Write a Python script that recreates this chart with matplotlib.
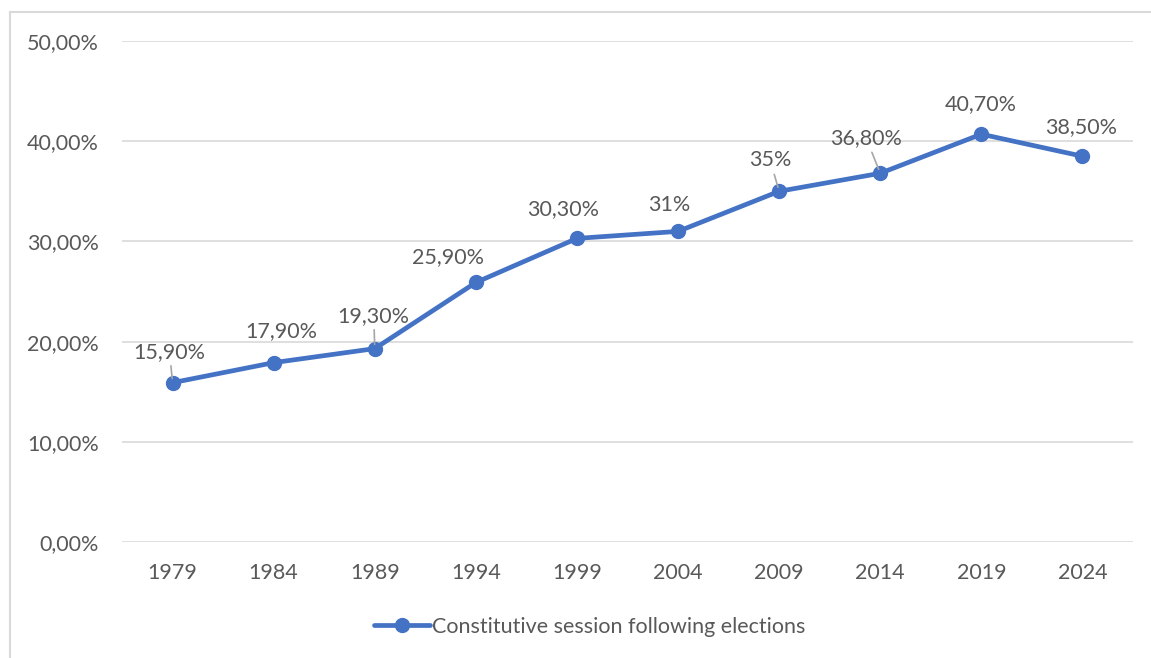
import matplotlib
matplotlib.use("Agg")
import matplotlib.pyplot as plt
from matplotlib.lines import Line2D

years = ["1979", "1984", "1989", "1994", "1999", "2004", "2009", "2014", "2019", "2024"]
values = [0.159, 0.179, 0.193, 0.259, 0.303, 0.31, 0.35, 0.368, 0.407, 0.385]
labels = ["15,90%", "17,90%", "19,30%", "25,90%", "30,30%", "31%", "35%", "36,80%", "40,70%", "38,50%"]
series_name = "Constitutive session following elections"
yticks = [0.0, 0.1, 0.2, 0.3, 0.4, 0.5]
ytick_labels = ["0,00%", "10,00%", "20,00%", "30,00%", "40,00%", "50,00%"]

# label offsets in pixels (dx, dy) and whether a leader line is drawn
label_offsets = [(-3, 31), (8, 32), (-1, 33), (-28, 25), (-14, 29),
                 (-9, 26), (-9, 31), (-14, 35), (-1, 30), (-1, 29)]
leaders = [True, False, True, False, False, False, True, True, False, False]

plt.rcParams['font.family'] = ['Lato', 'DejaVu Sans']
txt = '#595959'
grid = '#d9d9d9'
blue = '#4472C4'
fs = 15.5

fig = plt.figure(figsize=(11.51, 6.58), dpi=100)
ax = fig.add_axes([122/1151, 1-542/658, (1133-122)/1151, (542-41)/658])

x = list(range(len(years)))
line, = ax.plot(x, values, color=blue, lw=3.4, marker='o', markersize=10,
                solid_capstyle='round', zorder=3)

ax.set_xlim(-0.5, len(years) - 0.5)
ax.set_ylim(0, 0.5)
ax.set_yticks(yticks)
ax.set_yticklabels(ytick_labels)
ax.set_xticks(x)
ax.set_xticklabels(years)
ax.tick_params(axis='both', length=0, labelsize=fs, colors=txt)
ax.tick_params(axis='y', pad=16.5)
ax.tick_params(axis='x', pad=15)
ax.grid(axis='y', color=grid, lw=1.2)
ax.set_axisbelow(True)
for s in ax.spines.values():
    s.set_visible(False)

for xi, v, lab, off, ld in zip(x, values, labels, label_offsets, leaders):
    kw = {}
    if ld:
        kw['arrowprops'] = dict(arrowstyle='-', color='#a6a6a6', lw=1.2,
                                shrinkA=1, shrinkB=3)
    ax.annotate(lab, (xi, v), xytext=off, textcoords='offset pixels',
                ha='center', va='center', fontsize=fs, color=txt, **kw)

handle = Line2D([0], [0], color=blue, lw=3.4, marker='o', markersize=10,
                solid_capstyle='round')
fig.legend([handle], [series_name], loc='center', bbox_to_anchor=(590/1151, 1-627/658),
           frameon=False, fontsize=fs, labelcolor=txt, handlelength=2.6,
           handletextpad=0.1)

# chart border (left & top visible)
fig.add_artist(Line2D([10/1151, 10/1151], [0, 1-12/658], color=grid, lw=1.5,
                      transform=fig.transFigure))
fig.add_artist(Line2D([10/1151, 1], [1-12/658, 1-12/658], color=grid, lw=1.5,
                      transform=fig.transFigure))

fig.savefig('out.png', dpi=100)
